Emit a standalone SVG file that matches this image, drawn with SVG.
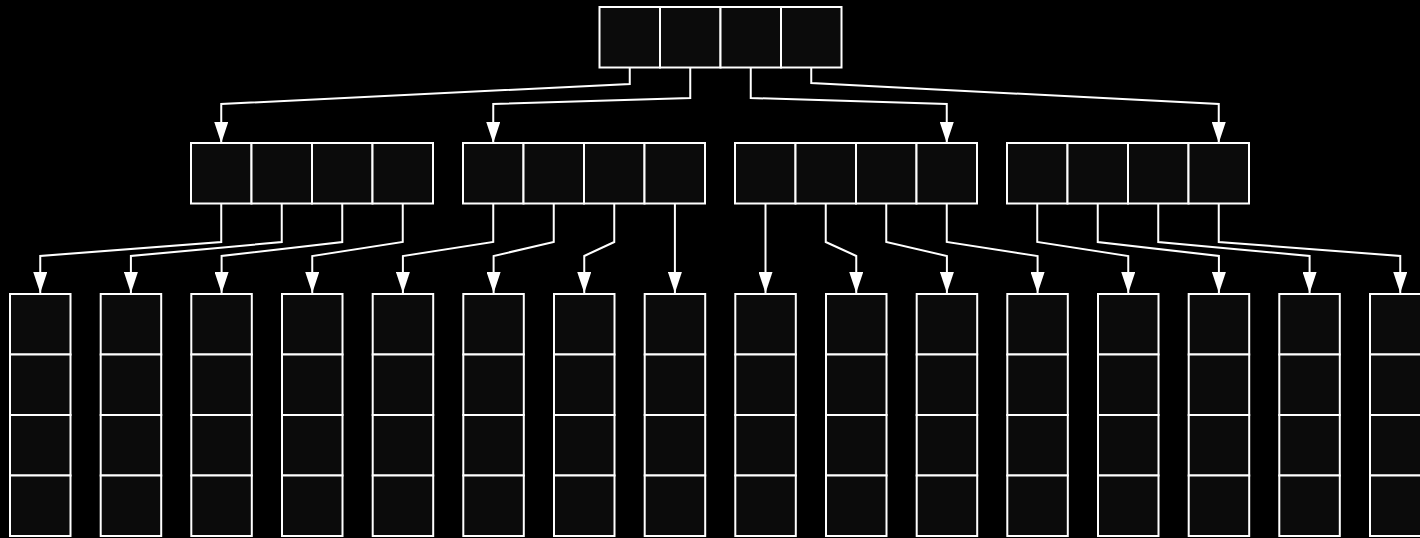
<svg xmlns="http://www.w3.org/2000/svg" width="1420" height="538" viewBox="0 0 1420 538">
  <style>
    .cell { fill: #0b0b0b; stroke: #ffffff; stroke-width: 2; }
    .edge { fill: none; stroke: #ffffff; stroke-width: 2; marker-end: url(#arrow); }
  </style>
  <defs>
    <marker id="arrow" markerUnits="userSpaceOnUse" markerWidth="21" markerHeight="14" viewBox="0 0 21 14" refX="21" refY="7" orient="auto">
      <path d="M0,0 L21,7 L0,14 Z" fill="#ffffff"/>
    </marker>
    <!-- horizontal 4-cell node -->
    <g id="hnode">
      <rect class="cell" x="0" y="0" width="60.5" height="60.5"/>
      <rect class="cell" x="60.5" y="0" width="60.5" height="60.5"/>
      <rect class="cell" x="121" y="0" width="60.5" height="60.5"/>
      <rect class="cell" x="181.5" y="0" width="60.5" height="60.5"/>
    </g>
    <!-- vertical 4-cell leaf -->
    <g id="vnode">
      <rect class="cell" x="0" y="0" width="60.5" height="60.5"/>
      <rect class="cell" x="0" y="60.5" width="60.5" height="60.5"/>
      <rect class="cell" x="0" y="121" width="60.5" height="60.5"/>
      <rect class="cell" x="0" y="181.5" width="60.5" height="60.5"/>
    </g>
  </defs>
  <rect x="0" y="0" width="1420" height="538" fill="#000000"/>

  <g id="connectors">
    <!-- root to level 1 -->
    <path class="edge" d="M629.75,67 V84 L221.25,104 V143"/>
    <path class="edge" d="M690.25,67 V98 L493.25,104 V143"/>
    <path class="edge" d="M750.75,67 V98 L946.75,104 V143"/>
    <path class="edge" d="M811.25,67 V83 L1218.75,104 V143"/>
    <!-- level 1 to leaves -->
    <path class="edge" d="M221.25,203 V242 L40.25,256 V293"/>
    <path class="edge" d="M281.75,203 V242 L130.9,256 V293"/>
    <path class="edge" d="M342.25,203 V242 L221.6,256 V293"/>
    <path class="edge" d="M402.75,203 V242 L312.25,256 V293"/>
    <path class="edge" d="M493.25,203 V242 L402.9,256 V293"/>
    <path class="edge" d="M553.75,203 V242 L493.6,256 V293"/>
    <path class="edge" d="M614.25,203 V242 L584.25,256 V293"/>
    <path class="edge" d="M674.9,203 V293"/>
    <path class="edge" d="M765.5,203 V293"/>
    <path class="edge" d="M825.75,203 V242 L856.25,256 V293"/>
    <path class="edge" d="M886.25,203 V242 L946.9,256 V293"/>
    <path class="edge" d="M946.75,203 V242 L1037.6,256 V293"/>
    <path class="edge" d="M1037.25,203 V242 L1128.25,256 V293"/>
    <path class="edge" d="M1097.75,203 V242 L1218.9,256 V293"/>
    <path class="edge" d="M1158.25,203 V242 L1309.6,256 V293"/>
    <path class="edge" d="M1218.75,203 V242 L1400.25,256 V293"/>
  </g>

  <g id="root"><use href="#hnode" x="599.5" y="7"/></g>

  <g id="n1"><use href="#hnode" x="191" y="143"/></g>
  <g id="n2"><use href="#hnode" x="463" y="143"/></g>
  <g id="n3"><use href="#hnode" x="735" y="143"/></g>
  <g id="n4"><use href="#hnode" x="1007" y="143"/></g>

  <g id="leaf1"><use href="#vnode" x="10" y="294"/></g>
  <g id="leaf2"><use href="#vnode" x="100.7" y="294"/></g>
  <g id="leaf3"><use href="#vnode" x="191.3" y="294"/></g>
  <g id="leaf4"><use href="#vnode" x="282" y="294"/></g>
  <g id="leaf5"><use href="#vnode" x="372.7" y="294"/></g>
  <g id="leaf6"><use href="#vnode" x="463.3" y="294"/></g>
  <g id="leaf7"><use href="#vnode" x="554" y="294"/></g>
  <g id="leaf8"><use href="#vnode" x="644.7" y="294"/></g>
  <g id="leaf9"><use href="#vnode" x="735.3" y="294"/></g>
  <g id="leaf10"><use href="#vnode" x="826" y="294"/></g>
  <g id="leaf11"><use href="#vnode" x="916.7" y="294"/></g>
  <g id="leaf12"><use href="#vnode" x="1007.3" y="294"/></g>
  <g id="leaf13"><use href="#vnode" x="1098" y="294"/></g>
  <g id="leaf14"><use href="#vnode" x="1188.7" y="294"/></g>
  <g id="leaf15"><use href="#vnode" x="1279.3" y="294"/></g>
  <g id="leaf16"><use href="#vnode" x="1370" y="294"/></g>
</svg>
